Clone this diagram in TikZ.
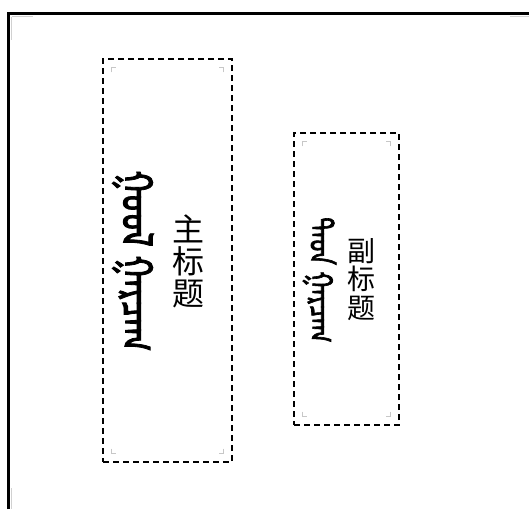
\documentclass[tikz,border=0pt]{standalone}
\usepackage{fontspec}
\usetikzlibrary{calc}
\newfontfamily\cjk{Noto Sans CJK SC}
\IfFontExistsTF{Noto Sans Mongolian}{\newfontfamily\mong[Script=Mongolian,FakeBold=2.5]{Noto Sans Mongolian}}{\newcommand\mong{}}
\begin{document}
\begin{tikzpicture}[x=1pt,y=-1pt,
  dashbox/.style={draw=black, line width=1.3pt, dash pattern=on 6pt off 4pt, inner sep=0pt},
  cornermark/.style={draw=black!22, line width=0.9pt},
  shadowline/.style={draw=black!18, line width=1.2pt},
  frameline/.style={draw=black, line width=3pt},
  mongtext/.style={rotate=-90, yscale=1.3, inner sep=0pt},
  cjktext/.style={align=center, inner sep=0pt}]
\useasboundingbox (0,0) rectangle (529,509);
\fill[white] (0,0) rectangle (529,509);
% outer frame
\coordinate (fbl) at (8.5,509);
\coordinate (ftl) at (8.5,13.5);
\coordinate (ftr) at (529,13.5);
\draw[frameline] (fbl) -- (ftl) -- (ftr);
\draw[shadowline] (11.5,16.6) -- (33,16.6);
\draw[shadowline] (11.6,16.6) -- (11.6,40);
\draw[shadowline] (510,16.4) -- (529,16.4);
\draw[shadowline] (11.6,488) -- (11.6,509);
% boxes
\node[dashbox, minimum width=129pt, minimum height=403pt] (main) at (167.5,260.5) {};
\node[dashbox, minimum width=105pt, minimum height=292pt] (sub) at (346.5,279) {};
% corner marks
\foreach \b/\d in {main/9, sub/9}{
  \draw[cornermark] ($(\b.north west)+(\d,\d+5)$) -- ($(\b.north west)+(\d,\d)$) -- ($(\b.north west)+(\d+5,\d)$);
  \draw[cornermark] ($(\b.north east)+(-\d,\d+5)$) -- ($(\b.north east)+(-\d,\d)$) -- ($(\b.north east)+(-\d-5,\d)$);
  \draw[cornermark] ($(\b.south west)+(\d,-\d-5)$) -- ($(\b.south west)+(\d,-\d)$) -- ($(\b.south west)+(\d+5,-\d)$);
  \draw[cornermark] ($(\b.south east)+(-\d,-\d-5)$) -- ($(\b.south east)+(-\d,-\d)$) -- ($(\b.south east)+(-\d-5,-\d)$);
}
% texts
\node[mongtext, font=\mong\fontsize{33}{33}\selectfont] (mmain) at (133,261) {ᠭᠣᠣᠯ ᠭᠠᠷᠴᠠᠭ};
\node[cjktext, font=\cjk\fontsize{32}{32}\selectfont] (cmain) at (188,261.5) {主\\标\\题};
\node[mongtext, font=\mong\fontsize{24.5}{24.5}\selectfont] (msub) at (319.5,280) {ᠳᠡᠳ ᠭᠠᠷᠴᠠᠭ};
\node[cjktext, font=\cjk\fontsize{28}{28.5}\selectfont] (csub) at (361,279.5) {副\\标\\题};
\end{tikzpicture}
\end{document}
